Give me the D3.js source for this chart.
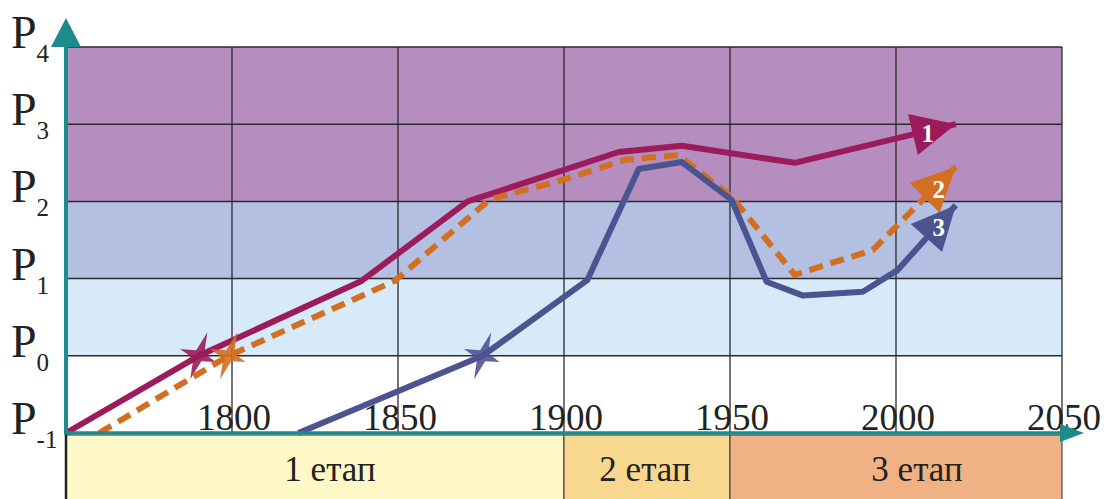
<!DOCTYPE html>
<html>
<head>
<meta charset="utf-8">
<script src="https://cdn.jsdelivr.net/npm/d3@7"></script>
<style>
body { margin: 0; background: #fff; }
</style>
</head>
<body>
<div id="main"></div>
<script>
// data
var yearTicks = [1800, 1850, 1900, 1950, 2000, 2050];
var levels = [-1, 0, 1, 2, 3, 4];

var zoneFrom = [2, 1, 0, -1];
var zoneTo = [4, 2, 1, 0];

var stageNames = ["1 етап", "2 етап", "3 етап"];
var stageFrom = [1750, 1900, 1950];
var stageTo = [1900, 1950, 2050];

var line1Years = [1750, 1790, 1839, 1871, 1916.5, 1935.5, 1969.5, 2018];
var line1Values = [-1, 0, 0.97, 2.0, 2.64, 2.72, 2.5, 3.0];

var line2Years = [1760, 1799, 1849, 1877.5, 1900.5, 1918.5, 1934.5, 1950.5, 1969.5, 1993, 2018];
var line2Values = [-1, 0, 0.97, 2.02, 2.29, 2.54, 2.6, 2.06, 1.05, 1.37, 2.45];

var line3Years = [1820, 1875.5, 1907, 1922.5, 1935.5, 1950.5, 1961, 1972, 1990, 2000.5, 2018];
var line3Values = [-1, 0, 0.98, 2.42, 2.51, 2.02, 0.96, 0.78, 0.83, 1.11, 1.95];

var starYears = [1790, 1799, 1875.5];
var seriesNames = ["1", "2", "3"];

// svg part
var width = 1104;
var height = 499;
var plotLeft = 66, plotRight = 1062, plotTop = 47, axisY = 433;
var teal = "#1b8b8c";
var zoneColors = ["#b58ebf", "#b3c0e2", "#d6eaf9", "#ffffff"];
var stageColors = ["#fdf8c6", "#f8d78f", "#f0b284"];
var lineColors = ["#9c1c5b", "#d36f20", "#4b5491"];
var serif = "'Liberation Serif', 'Times New Roman', serif";
var arrowLen = 44, arrowHalf = 21;

var x = d3.scaleLinear().domain([1750, 2050]).range([plotLeft, plotRight]);
var y = d3.scaleLinear().domain([-1, 4]).range([axisY, plotTop]);

var svg = d3.select("#main").append("svg")
    .attr("width", width)
    .attr("height", height);

// zones
zoneFrom.forEach(function(f, i) {
    svg.append("rect")
        .attr("x", plotLeft)
        .attr("y", y(zoneTo[i]))
        .attr("width", plotRight - plotLeft)
        .attr("height", y(f) - y(zoneTo[i]))
        .attr("fill", zoneColors[i]);
});

// stage bands
stageNames.forEach(function(s, i) {
    svg.append("rect")
        .attr("x", x(stageFrom[i]))
        .attr("y", axisY + 2)
        .attr("width", x(stageTo[i]) - x(stageFrom[i]))
        .attr("height", height - axisY)
        .attr("fill", stageColors[i])
        .attr("stroke", "#333")
        .attr("stroke-width", 1);
});
var shift = [15, -2, 21];
stageNames.forEach(function(s, i) {
    svg.append("text")
        .text(s)
        .attr("x", (x(stageFrom[i]) + x(stageTo[i])) / 2 + shift[i])
        .attr("y", 481)
        .attr("text-anchor", "middle")
        .attr("font-family", serif)
        .attr("font-size", "35px")
        .attr("fill", "#222");
});

// tick labels
yearTicks.forEach(function(t) {
    svg.append("text")
        .text(t)
        .attr("x", x(t) + 2)
        .attr("y", 430)
        .attr("text-anchor", "middle")
        .attr("font-family", serif)
        .attr("font-size", "37px")
        .attr("fill", "#222");
});

// grid
levels.forEach(function(l) {
    if (l == -1) return;
    svg.append("line")
        .attr("x1", plotLeft).attr("x2", plotRight)
        .attr("y1", y(l)).attr("y2", y(l))
        .attr("stroke", "#2a2a2a")
        .attr("stroke-width", 1.5);
});
yearTicks.forEach(function(t) {
    svg.append("line")
        .attr("x1", x(t)).attr("x2", x(t))
        .attr("y1", plotTop).attr("y2", axisY)
        .attr("stroke", "#2a2a2a")
        .attr("stroke-width", 1.3);
});

// y labels
levels.forEach(function(l) {
    var t = svg.append("text")
        .attr("x", 11)
        .attr("y", y(l) + 1)
        .attr("font-family", serif)
        .attr("font-size", "46px")
        .attr("fill", "#222")
        .text("P");
    t.append("tspan")
        .attr("dy", 14)
        .attr("font-size", "25px")
        .text(l);
});

// series
var sets = [[line1Years, line1Values], [line2Years, line2Values], [line3Years, line3Values]];
var line = d3.line().x(function(d) { return x(d[0]); }).y(function(d) { return y(d[1]); });

function star(cx, cy, color) {
    var pts = [];
    var radii = [25, 6, 18, 6, 25, 6, 20, 6];
    for (var k = 0; k < 8; k++) {
        var a = -Math.PI / 2 + 0.35 + k * Math.PI / 4;
        pts.push([cx + radii[k] * Math.cos(a), cy + radii[k] * Math.sin(a)]);
    }
    svg.append("polygon")
        .attr("points", pts.map(function(p) { return p.join(","); }).join(" "))
        .attr("fill", color)
        .attr("fill-opacity", 0.9);
}

function arrowHead(s, color) {
    var n = s[0].length - 1;
    var tx = x(s[0][n]), ty = y(s[1][n]);
    var px = x(s[0][n - 1]), py = y(s[1][n - 1]);
    var dx = tx - px, dy = ty - py;
    var len = Math.sqrt(dx * dx + dy * dy);
    var ux = dx / len, uy = dy / len;
    var bx = tx - arrowLen * ux, by = ty - arrowLen * uy;
    var pts = [[tx, ty], [bx - arrowHalf * uy, by + arrowHalf * ux], [bx + arrowHalf * uy, by - arrowHalf * ux]];
    svg.append("polygon")
        .attr("points", pts.map(function(p) { return p.join(","); }).join(" "))
        .attr("fill", color);
}

sets.forEach(function(s, i) {
    var data = s[0].map(function(yr, k) { return [yr, s[1][k]]; });
    star(x(starYears[i]), y(0), lineColors[i]);
    svg.append("path")
        .datum(data.slice(0, -1).concat([data[data.length - 1]]))
        .attr("d", line)
        .attr("fill", "none")
        .attr("stroke", lineColors[i])
        .attr("stroke-width", 6)
        .attr("stroke-linejoin", "round")
        .attr("stroke-dasharray", i == 1 ? "14,8" : null);
    arrowHead(s, lineColors[i]);
});

var labelDx = [-28, -17, -17];
var labelDy = [18, 31, 31];
sets.forEach(function(s, i) {
    var n = s[0].length - 1;
    svg.append("text")
        .text(seriesNames[i])
        .attr("x", x(s[0][n]) + labelDx[i])
        .attr("y", y(s[1][n]) + labelDy[i])
        .attr("text-anchor", "middle")
        .attr("font-family", serif)
        .attr("font-size", "25px")
        .attr("font-weight", "bold")
        .attr("fill", "#fff");
});

// axes
svg.append("line")
    .attr("x1", plotLeft).attr("x2", plotLeft)
    .attr("y1", axisY).attr("y2", height)
    .attr("stroke", "#222").attr("stroke-width", 2.5);
svg.append("line")
    .attr("x1", plotLeft).attr("x2", plotLeft)
    .attr("y1", axisY + 1).attr("y2", 40)
    .attr("stroke", teal).attr("stroke-width", 4);
svg.append("polygon")
    .attr("points", [[plotLeft - 15, 47], [plotLeft, 18], [plotLeft + 15, 47]].map(function(p) { return p.join(","); }).join(" "))
    .attr("fill", teal);
svg.append("line")
    .attr("x1", plotLeft - 2).attr("x2", 1068)
    .attr("y1", axisY).attr("y2", axisY)
    .attr("stroke", teal).attr("stroke-width", 3.5);
svg.append("polygon")
    .attr("points", [[1060, axisY - 9], [1084, axisY], [1060, axisY + 9]].map(function(p) { return p.join(","); }).join(" "))
    .attr("fill", teal);
</script>
</body>
</html>
